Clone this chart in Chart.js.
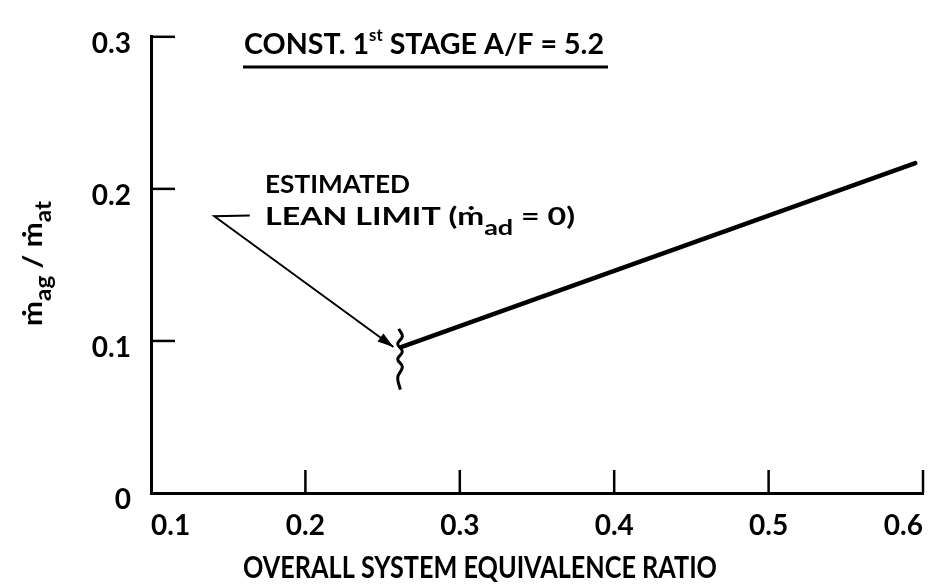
<!DOCTYPE html>
<html>
<head>
<meta charset="utf-8">
<script src="https://cdn.jsdelivr.net/npm/chart.js@4/dist/chart.umd.min.js"></script>
<style>
  html, body { margin: 0; padding: 0; background: #ffffff; }
  #wrap { width: 939px; height: 585px; }
</style>
</head>
<body>
<div id="wrap"><canvas id="c" width="939" height="585"></canvas></div>
<script>
// ---- data ----
const xTicks = [0.1, 0.2, 0.3, 0.4, 0.5, 0.6];
const yTicks = [0, 0.1, 0.2, 0.3];
const xTickLabels = ['0.1', '0.2', '0.3', '0.4', '0.5', '0.6'];
const yTickLabels = ['0', '0.1', '0.2', '0.3'];
// main curve: mag/mat vs overall equivalence ratio
const curveX = [0.262, 0.595];
const curveY = [0.096, 0.217];
// wavy "lean limit" marker
const limitX = [0.2605, 0.2628, 0.2598, 0.2628, 0.2598, 0.2628, 0.2598, 0.2615];
const limitY = [0.108, 0.103, 0.098, 0.093, 0.088, 0.083, 0.076, 0.068];
// annotation leader (stub, corner, arrow tip)
const leaderX = [0.164, 0.141, 0.257];
const leaderY = [0.1825, 0.182, 0.096];

const FONT = 'Lato, "Open Sans", "DejaVu Sans", sans-serif';

function zip(xs, ys) { return xs.map((x, i) => ({ x: x, y: ys[i] })); }

function richWidth(ctx, segs) {
  let w = 0;
  segs.forEach(s => { ctx.font = (s.weight || 'bold') + ' ' + s.size + 'px ' + FONT; w += ctx.measureText(s.text).width; });
  return w;
}
function drawRich(ctx, segs, x, y, targetW, angle) {
  ctx.save();
  ctx.translate(x, y);
  if (angle) ctx.rotate(angle);
  const w = richWidth(ctx, segs);
  const sx = targetW ? targetW / w : 1;
  ctx.scale(sx, 1);
  ctx.fillStyle = '#000';
  ctx.textBaseline = 'alphabetic';
  ctx.textAlign = 'left';
  let cx = 0;
  segs.forEach(s => {
    ctx.font = (s.weight || 'bold') + ' ' + s.size + 'px ' + FONT;
    ctx.fillText(s.text, cx, s.dy || 0);
    cx += ctx.measureText(s.text).width;
  });
  ctx.restore();
}

const decor = {
  id: 'decor',
  afterDraw(chart) {
    const ctx = chart.ctx;
    const xs = chart.scales.x, ys = chart.scales.y;
    const a = chart.chartArea;
    ctx.save();
    ctx.strokeStyle = '#000';
    ctx.lineCap = 'butt';
    ctx.lineWidth = 2.5;
    // inward tick marks
    xTicks.forEach(v => {
      if (v === xTicks[0]) return;
      const px = xs.getPixelForValue(v);
      ctx.beginPath(); ctx.moveTo(px, a.bottom); ctx.lineTo(px, a.bottom - 23); ctx.stroke();
    });
    yTicks.forEach(v => {
      if (v === yTicks[0]) return;
      const py = ys.getPixelForValue(v);
      ctx.beginPath(); ctx.moveTo(a.left, py); ctx.lineTo(a.left + 24, py); ctx.stroke();
    });
    // arrow head on leader
    const n = leaderX.length;
    const tx = xs.getPixelForValue(leaderX[n - 1]), ty = ys.getPixelForValue(leaderY[n - 1]);
    const fx = xs.getPixelForValue(leaderX[n - 2]), fy = ys.getPixelForValue(leaderY[n - 2]);
    const ang = Math.atan2(ty - fy, tx - fx);
    const L = 16, W = 5;
    ctx.fillStyle = '#000';
    ctx.beginPath();
    ctx.moveTo(tx, ty);
    ctx.lineTo(tx - L * Math.cos(ang) + W * Math.sin(ang), ty - L * Math.sin(ang) - W * Math.cos(ang));
    ctx.lineTo(tx - L * Math.cos(ang) - W * Math.sin(ang), ty - L * Math.sin(ang) + W * Math.cos(ang));
    ctx.closePath();
    ctx.fill();

    // top title with underline
    drawRich(ctx, [
      { text: 'CONST. 1', size: 29 },
      { text: 'st', size: 17, dy: -13 },
      { text: ' STAGE A/F = 5.2', size: 29 }
    ], 244, 54, 360);
    ctx.lineWidth = 3;
    ctx.beginPath(); ctx.moveTo(243, 67); ctx.lineTo(608, 67); ctx.stroke();

    // annotation text
    drawRich(ctx, [{ text: 'ESTIMATED', size: 25 }], 265, 193, 145);
    drawRich(ctx, [
      { text: 'LEAN LIMIT (ṁ', size: 25 },
      { text: 'ad', size: 21, dy: 10 },
      { text: ' = 0)', size: 25 }
    ], 265, 225, 310);

    // x axis title
    drawRich(ctx, [{ text: 'OVERALL SYSTEM EQUIVALENCE RATIO', size: 30, weight: 'bold' }], 243, 578, 474);

    // y axis title (rotated)
    drawRich(ctx, [
      { text: 'ṁ', size: 27 },
      { text: 'ag', size: 22, dy: 9 },
      { text: ' / ', size: 27 },
      { text: 'ṁ', size: 27 },
      { text: 'at', size: 22, dy: 9 }
    ], 42, 326, 125, -Math.PI / 2);
    ctx.restore();
  }
};

new Chart(document.getElementById('c'), {
  type: 'scatter',
  data: {
    datasets: [
      { data: zip(curveX, curveY), showLine: true, borderColor: '#000', borderWidth: 4.5, pointRadius: 0, borderCapStyle: 'round' },
      { data: zip(limitX, limitY), showLine: true, borderColor: '#000', borderWidth: 3, pointRadius: 0, tension: 0.4 },
      { data: zip(leaderX, leaderY), showLine: true, borderColor: '#000', borderWidth: 2, pointRadius: 0 }
    ]
  },
  options: {
    responsive: false,
    animation: false,
    devicePixelRatio: 1,
    layout: { padding: { top: 30, right: 13, left: 0, bottom: 0 } },
    plugins: { legend: { display: false }, tooltip: { enabled: false }, title: { display: false } },
    scales: {
      x: {
        type: 'linear', min: 0.1, max: 0.6,
        afterBuildTicks: s => { s.ticks = xTicks.map(v => ({ value: v })); },
        afterFit: s => { s.height = 92; },
        grid: { display: true, drawOnChartArea: false, drawTicks: false },
        border: { display: true, color: '#000', width: 3 },
        ticks: {
          padding: 16, align: 'inner', color: '#000',
          font: { family: FONT, size: 28, weight: 'bold' },
          callback: (v, i) => xTickLabels[i]
        }
      },
      y: {
        type: 'linear', min: 0, max: 0.3,
        afterBuildTicks: s => { s.ticks = yTicks.map(v => ({ value: v })); },
        afterFit: s => { s.width = 151; },
        grid: { display: true, drawOnChartArea: false, drawTicks: false },
        border: { display: true, color: '#000', width: 3 },
        ticks: {
          padding: 20, labelOffset: 7, color: '#000',
          font: { family: FONT, size: 28, weight: 'bold' },
          callback: (v, i) => yTickLabels[i]
        }
      }
    }
  },
  plugins: [decor]
});
</script>
</body>
</html>
